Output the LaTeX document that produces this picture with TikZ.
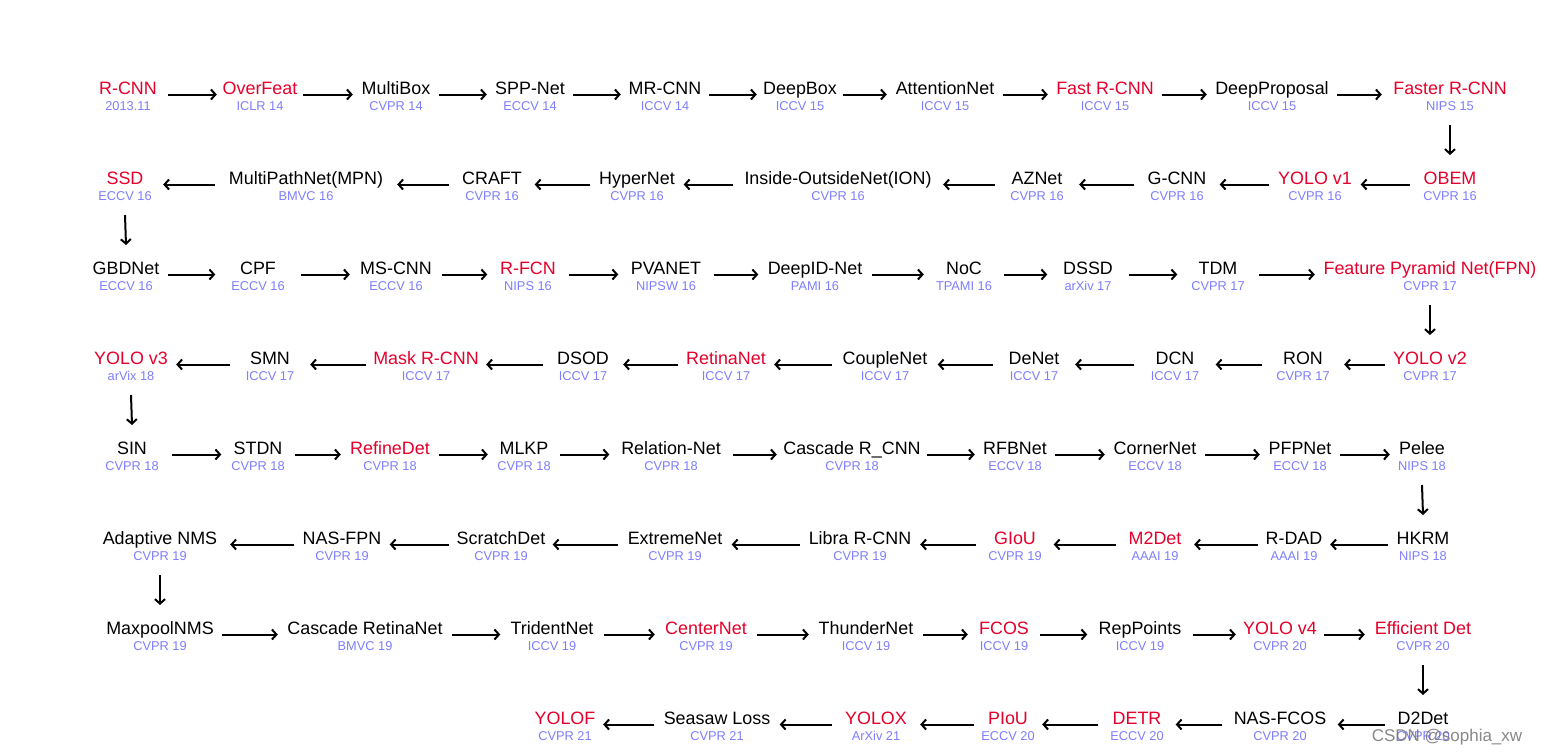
\documentclass[tikz,border=0pt]{standalone}
\usepackage{fontspec}
\setmainfont{Liberation Sans}
\usetikzlibrary{arrows.meta}
\definecolor{nred}{RGB}{228,0,43}
\definecolor{nblue}{RGB}{125,125,255}
\tikzset{
 nm/.style={inner sep=0pt, anchor=base, font=\fontsize{17.9}{20}\selectfont},
 blk/.style={nm, text=black},
 rd/.style={nm, text=nred},
 sb/.style={inner sep=0pt, anchor=base, font=\fontsize{12.8}{15}\selectfont, text=nblue},
 arr/.style={line width=2pt, -{Straight Barb[length=4.5pt,width=10pt]}},
}
\newcommand\ND[7]{\node[#1, minimum width={2*#5pt}] (#2) at (#3,#4) {#6};
 \node[sb] (#2s) at ([yshift=-15.5pt]#2.base) {#7};}
\begin{document}
\begin{tikzpicture}[x=1pt,y=-1pt]
\useasboundingbox (0,0) rectangle (1545,755);
% Row 1
\ND{rd}{r1a}{128}{94.5}{40}{R-CNN}{2013.11}
\ND{rd}{r1b}{260}{94.5}{43}{OverFeat}{ICLR 14}
\ND{blk}{r1c}{396}{94.5}{43}{MultiBox}{CVPR 14}
\ND{blk}{r1d}{530}{94.5}{43}{SPP-Net}{ECCV 14}
\ND{blk}{r1e}{665}{94.5}{44}{MR-CNN}{ICCV 14}
\ND{blk}{r1f}{800}{94.5}{43}{DeepBox}{ICCV 15}
\ND{blk}{r1g}{945}{94.5}{58}{AttentionNet}{ICCV 15}
\ND{rd}{r1h}{1105}{94.5}{57}{Fast R-CNN}{ICCV 15}
\ND{blk}{r1i}{1272}{94.5}{65}{DeepProposal}{ICCV 15}
\ND{rd}{r1j}{1450}{94.5}{68}{Faster R-CNN}{NIPS 15}
% Row 2
\ND{rd}{r2a}{125}{184.5}{38}{SSD}{ECCV 16}
\ND{blk}{r2b}{306}{184.5}{91}{MultiPathNet(MPN)}{BMVC 16}
\ND{blk}{r2c}{492}{184.5}{42.5}{CRAFT}{CVPR 16}
\ND{blk}{r2d}{637}{184.5}{46.5}{HyperNet}{CVPR 16}
\ND{blk}{r2e}{838}{184.5}{105}{Inside-OutsideNet(ION)}{CVPR 16}
\ND{blk}{r2f}{1037}{184.5}{42}{AZNet}{CVPR 16}
\ND{blk}{r2g}{1177}{184.5}{42.5}{G-CNN}{CVPR 16}
\ND{rd}{r2h}{1315}{184.5}{45.5}{YOLO v1}{CVPR 16}
\ND{rd}{r2i}{1450}{184.5}{40}{OBEM}{CVPR 16}
% Row 3
\ND{blk}{r3a}{126}{274.5}{42}{GBDNet}{ECCV 16}
\ND{blk}{r3b}{258}{274.5}{42.5}{CPF}{ECCV 16}
\ND{blk}{r3c}{396}{274.5}{46}{MS-CNN}{ECCV 16}
\ND{rd}{r3d}{528}{274.5}{40.5}{R-FCN}{NIPS 16}
\ND{blk}{r3e}{666}{274.5}{47.5}{PVANET}{NIPSW 16}
\ND{blk}{r3f}{815}{274.5}{56.5}{DeepID-Net}{PAMI 16}
\ND{blk}{r3g}{964}{274.5}{40}{NoC}{TPAMI 16}
\ND{blk}{r3h}{1088}{274.5}{40.5}{DSSD}{arXiv 17}
\ND{blk}{r3i}{1218}{274.5}{40.5}{TDM}{CVPR 17}
\ND{rd}{r3j}{1430}{274.5}{115}{Feature Pyramid Net(FPN)}{CVPR 17}
% Row 4
\ND{rd}{r4a}{131}{364.5}{45}{YOLO v3}{arVix 18}
\ND{blk}{r4b}{270}{364.5}{40}{SMN}{ICCV 17}
\ND{rd}{r4c}{426}{364.5}{60}{Mask R-CNN}{ICCV 17}
\ND{blk}{r4d}{583}{364.5}{40}{DSOD}{ICCV 17}
\ND{rd}{r4e}{726}{364.5}{48}{RetinaNet}{ICCV 17}
\ND{blk}{r4f}{885}{364.5}{52.5}{CoupleNet}{ICCV 17}
\ND{blk}{r4g}{1034}{364.5}{41}{DeNet}{ICCV 17}
\ND{blk}{r4h}{1175}{364.5}{40.5}{DCN}{ICCV 17}
\ND{blk}{r4i}{1303}{364.5}{41}{RON}{CVPR 17}
\ND{rd}{r4j}{1430}{364.5}{45}{YOLO v2}{CVPR 17}
% Row 5
\ND{blk}{r5a}{132}{454.5}{40}{SIN}{CVPR 18}
\ND{blk}{r5b}{258}{454.5}{36.5}{STDN}{CVPR 18}
\ND{rd}{r5c}{390}{454.5}{49}{RefineDet}{CVPR 18}
\ND{blk}{r5d}{524}{454.5}{36}{MLKP}{CVPR 18}
\ND{blk}{r5e}{671}{454.5}{61.5}{Relation-Net}{CVPR 18}
\ND{blk}{r5f}{852}{454.5}{75}{Cascade R\_CNN}{CVPR 18}
\ND{blk}{r5g}{1015}{454.5}{40}{RFBNet}{ECCV 18}
\ND{blk}{r5h}{1155}{454.5}{50}{CornerNet}{ECCV 18}
\ND{blk}{r5i}{1300}{454.5}{40}{PFPNet}{ECCV 18}
\ND{blk}{r5j}{1422}{454.5}{32}{Pelee}{NIPS 18}
% Row 6
\ND{blk}{r6a}{160}{544.5}{70}{Adaptive NMS}{CVPR 19}
\ND{blk}{r6b}{342}{544.5}{47.5}{NAS-FPN}{CVPR 19}
\ND{blk}{r6c}{501}{544.5}{51.5}{ScratchDet}{CVPR 19}
\ND{blk}{r6d}{675}{544.5}{56.5}{ExtremeNet}{CVPR 19}
\ND{blk}{r6e}{860}{544.5}{60}{Libra R-CNN}{CVPR 19}
\ND{rd}{r6f}{1015}{544.5}{38.5}{GIoU}{CVPR 19}
\ND{rd}{r6g}{1155}{544.5}{39}{M2Det}{AAAI 19}
\ND{blk}{r6h}{1294}{544.5}{36}{R-DAD}{AAAI 19}
\ND{blk}{r6i}{1423}{544.5}{35}{HKRM}{NIPS 18}
% Row 7
\ND{blk}{r7a}{160}{634.5}{62}{MaxpoolNMS}{CVPR 19}
\ND{blk}{r7b}{365}{634.5}{87}{Cascade RetinaNet}{BMVC 19}
\ND{blk}{r7c}{552}{634.5}{51.5}{TridentNet}{ICCV 19}
\ND{rd}{r7d}{706}{634.5}{51}{CenterNet}{CVPR 19}
\ND{blk}{r7e}{866}{634.5}{57}{ThunderNet}{ICCV 19}
\ND{rd}{r7f}{1004}{634.5}{36}{FCOS}{ICCV 19}
\ND{blk}{r7g}{1140}{634.5}{52.5}{RepPoints}{ICCV 19}
\ND{rd}{r7h}{1280}{634.5}{44}{YOLO v4}{CVPR 20}
\ND{rd}{r7i}{1423}{634.5}{58}{Efficient Det}{CVPR 20}
% Row 8
\ND{rd}{r8a}{565}{724.5}{38}{YOLOF}{CVPR 21}
\ND{blk}{r8b}{717}{724.5}{62.5}{Seasaw Loss}{CVPR 21}
\ND{rd}{r8c}{876}{724.5}{44}{YOLOX}{ArXiv 21}
\ND{rd}{r8d}{1008}{724.5}{34}{PIoU}{ECCV 20}
\ND{rd}{r8e}{1137}{724.5}{38.5}{DETR}{ECCV 20}
\ND{blk}{r8f}{1280}{724.5}{57.5}{NAS-FCOS}{CVPR 20}
\ND{blk}{r8g}{1423}{724.5}{38}{D2Det}{CVPR 20}
% horizontal arrows, left to right rows
\foreach \a/\b in {r1a/r1b,r1b/r1c,r1c/r1d,r1d/r1e,r1e/r1f,r1f/r1g,r1g/r1h,r1h/r1i,r1i/r1j,
 r3a/r3b,r3b/r3c,r3c/r3d,r3d/r3e,r3e/r3f,r3f/r3g,r3g/r3h,r3h/r3i,r3i/r3j,
 r5a/r5b,r5b/r5c,r5c/r5d,r5d/r5e,r5e/r5f,r5f/r5g,r5g/r5h,r5h/r5i,r5i/r5j,
 r7a/r7b,r7b/r7c,r7c/r7d,r7d/r7e,r7e/r7f,r7f/r7g,r7g/r7h,r7h/r7i}
 \draw[arr] (\a.base east) -- (\b.base west);
% right to left rows
\foreach \a/\b in {r2i/r2h,r2h/r2g,r2g/r2f,r2f/r2e,r2e/r2d,r2d/r2c,r2c/r2b,r2b/r2a,
 r4j/r4i,r4i/r4h,r4h/r4g,r4g/r4f,r4f/r4e,r4e/r4d,r4d/r4c,r4c/r4b,r4b/r4a,
 r6i/r6h,r6h/r6g,r6g/r6f,r6f/r6e,r6e/r6d,r6d/r6c,r6c/r6b,r6b/r6a,
 r8g/r8f,r8f/r8e,r8e/r8d,r8d/r8c,r8c/r8b,r8b/r8a}
 \draw[arr] (\a.base west) -- (\b.base east);
% vertical arrows
\foreach \a/\b in {r1j/r2i,r2a/r3a,r3j/r4j,r4a/r5a,r5j/r6i,r6a/r7a,r7i/r8g}
 \draw[arr] ([yshift=-30.5pt]\a.base) -- ([yshift=29.5pt]\b.base);
% watermark
\node[anchor=base, inner sep=0pt, font=\fontsize{17}{20}\selectfont, text=black!55, opacity=0.85] (wm) at (1447,741) {CSDN @sophia\_xw};
\end{tikzpicture}
\end{document}
